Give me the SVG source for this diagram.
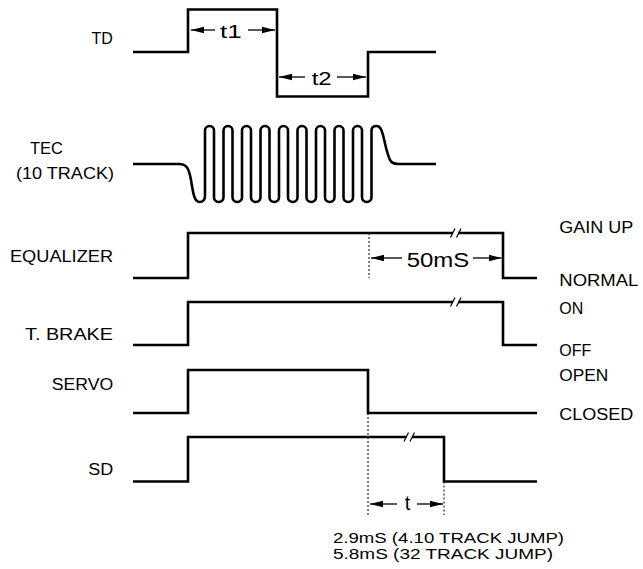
<svg xmlns="http://www.w3.org/2000/svg" width="643" height="569" viewBox="0 0 643 569">
<style>
.sig{fill:none;stroke:#000;stroke-width:2.6;stroke-linejoin:miter;stroke-linecap:butt}
.brk{fill:none;stroke:#000;stroke-width:1.2}
.dot{fill:none;stroke:#000;stroke-width:1;stroke-dasharray:2 2}
.dim{fill:none;stroke:#000;stroke-width:1.3;marker-end:url(#ah)}
text{font-family:"Liberation Sans",Arial,sans-serif;fill:#000}
.lbl{font-size:16px}
.note{font-size:15px}
.big{font-size:19px}
</style>
<defs>
<marker id="ah" markerWidth="13" markerHeight="8" refX="13" refY="4" orient="auto" markerUnits="userSpaceOnUse">
<path d="M0,0.7 L13,4 L0,7.3 z" fill="#000"/>
</marker>
</defs>
<rect width="643" height="569" fill="#fff"/>

<g id="td">
<text class="lbl" x="91.5" y="43.5">TD</text>
<path class="sig" d="M133,52 H188 V9.5 H277 V96.5 H368 V52 H436"/>
</g>

<g id="tec">
<text class="lbl" x="30" y="154" textLength="33" lengthAdjust="spacingAndGlyphs">TEC</text>
<text class="lbl" x="16" y="179" textLength="98" lengthAdjust="spacingAndGlyphs">(10 TRACK)</text>
<path class="sig" d="M133,164 H179 C187,164 189,169 191,180 C193,192 194,202 199.5,202 C203,202 205,199.5 205,196 V130.5 A4.5,4.5 0 0 1 214,130.5 V197.25 A4.75,4.75 0 0 0 223.5,197.25 V130.5 A4.5,4.5 0 0 1 232.5,130.5 V197.25 A4.75,4.75 0 0 0 242,197.25 V130.5 A4.5,4.5 0 0 1 251,130.5 V197.25 A4.75,4.75 0 0 0 260.5,197.25 V130.5 A4.5,4.5 0 0 1 269.5,130.5 V197.25 A4.75,4.75 0 0 0 279,197.25 V130.5 A4.5,4.5 0 0 1 288,130.5 V197.25 A4.75,4.75 0 0 0 297.5,197.25 V130.5 A4.5,4.5 0 0 1 306.5,130.5 V197.25 A4.75,4.75 0 0 0 316,197.25 V130.5 A4.5,4.5 0 0 1 325,130.5 V197.25 A4.75,4.75 0 0 0 334.5,197.25 V130.5 A4.5,4.5 0 0 1 343.5,130.5 V197.25 A4.75,4.75 0 0 0 353,197.25 V130.5 A4.5,4.5 0 0 1 362,130.5 V197.25 A4.75,4.75 0 0 0 371.5,197.25 V130.5 C371.5,127.5 373.5,126 376.5,126 C380,126 381.5,129 383.5,137 C386,148 388,158 391,161.5 C393,163.5 395,164 399,164 H436"/>
</g>

<g id="equalizer">
<text class="lbl" x="10" y="262" textLength="103" lengthAdjust="spacingAndGlyphs">EQUALIZER</text>
<path class="sig" d="M133,278 H188 V233 H453 M458.5,233 H503 V278 H537"/>
<path class="brk" d="M450.5,237.5 L455,228.5 M456.5,237.5 L461,228.5"/>
<text class="lbl" x="559.3" y="232.5" textLength="74" lengthAdjust="spacingAndGlyphs">GAIN UP</text>
<text class="lbl" x="559.3" y="286" textLength="79" lengthAdjust="spacingAndGlyphs">NORMAL</text>
</g>

<g id="tbrake">
<text class="lbl" x="25" y="340" textLength="88" lengthAdjust="spacingAndGlyphs">T. BRAKE</text>
<path class="sig" d="M133,345 H188 V302 H453 M458.5,302 H503 V345 H537"/>
<path class="brk" d="M450.5,306.5 L455,297.5 M456.5,306.5 L461,297.5"/>
<text class="lbl" x="559.3" y="313.5">ON</text>
<text class="lbl" x="559.3" y="355.5" textLength="32" lengthAdjust="spacingAndGlyphs">OFF</text>
</g>

<g id="servo">
<text class="lbl" x="51.7" y="389.5" textLength="61.5" lengthAdjust="spacingAndGlyphs">SERVO</text>
<path class="sig" d="M133,413 H188 V370 H368 V413 H537"/>
<text class="lbl" x="559.3" y="381" textLength="49" lengthAdjust="spacingAndGlyphs">OPEN</text>
<text class="lbl" x="559.3" y="419.5" textLength="74" lengthAdjust="spacingAndGlyphs">CLOSED</text>
</g>

<g id="sd">
<text class="lbl" x="88.3" y="475" textLength="25" lengthAdjust="spacingAndGlyphs">SD</text>
<path class="sig" d="M133,481.5 H188 V437 H406.5 M412,437 H444 V481.5 H537"/>
<path class="brk" d="M404,441.5 L408.5,432.5 M410,441.5 L414.5,432.5"/>
</g>

<g id="connectors">
<path class="dot" d="M369,233 V278 M368,413 V515 M444,481.5 V515"/>
<path class="dim" d="M215,30 H191"/>
<path class="dim" d="M248,30 H275"/>
<text class="big" x="220" y="37.5" textLength="21.7" lengthAdjust="spacingAndGlyphs">t1</text>
<path class="dim" d="M305,77 H279"/>
<path class="dim" d="M337,77 H366"/>
<text class="big" x="311.7" y="85" textLength="20" lengthAdjust="spacingAndGlyphs">t2</text>
<path class="dim" d="M402,258 H371"/>
<path class="dim" d="M473,258 H501.5"/>
<text x="406.7" y="266.5" font-size="20" textLength="62.6" lengthAdjust="spacingAndGlyphs">50mS</text>
<path class="dim" d="M397,504 H370"/>
<path class="dim" d="M417,504 H443"/>
<text x="407.5" y="510" font-size="20" text-anchor="middle">t</text>
</g>

<g id="note">
<text class="note" x="333" y="542.5" textLength="231" lengthAdjust="spacingAndGlyphs">2.9mS (4.10 TRACK JUMP)</text>
<text class="note" x="333" y="559" textLength="220" lengthAdjust="spacingAndGlyphs">5.8mS (32 TRACK JUMP)</text>
</g>
</svg>
